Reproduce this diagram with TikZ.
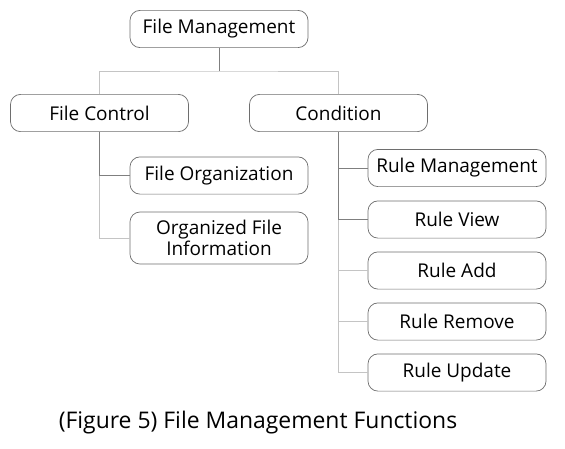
\documentclass[tikz,border=0pt]{standalone}
\usepackage{fontspec}
\setmainfont{Open Sans}
\usetikzlibrary{positioning}
\definecolor{boxgray}{HTML}{6E6E6E}
\definecolor{linkdark}{HTML}{7F7F7F}
\definecolor{linklight}{HTML}{C4C4C4}

\tikzset{
  funcbox/.style={rectangle, rounded corners=2.5mm, draw=boxgray, fill=white, line width=0.5pt,
    minimum width=4.45cm, minimum height=0.93cm, align=center, font=\fontsize{13.5}{15}\selectfont, inner sep=0pt},
  tallbox/.style={funcbox, minimum height=1.3cm},
  darklink/.style={draw=linkdark, line width=0.6pt},
  lightlink/.style={draw=linklight, line width=0.6pt}
}

\begin{document}
\begin{tikzpicture}[x=0.025cm, y=-0.025cm]
\useasboundingbox (0,0) rectangle (565,448);

% Top level and the two groups
\node[funcbox] (mgmt) at (219,29) {File Management};
\node[funcbox] (ctrl) at (99.5,113) {File Control};
\node[funcbox] (cond) at (338.5,113) {Condition};

% File Control children
\node[funcbox] (org) at (219,175.5) {File Organization};
\node[tallbox] (orginfo) at (219,238) {Organized File\\Information};

% Condition children
\node[funcbox] (rmgmt) at (457,168) {Rule Management};
\node[funcbox] (rview) at (457,219.5) {Rule View};
\node[funcbox] (radd) at (457,270.5) {Rule Add};
\node[funcbox] (rremove) at (457,321.5) {Rule Remove};
\node[funcbox] (rupdate) at (457,372.5) {Rule Update};

% Connectors
\coordinate (split) at (219,71);
\draw[darklink] (mgmt.south) -- (split);
\draw[lightlink] (ctrl.north) |- (split) -| (cond.north);

\draw[darklink] (ctrl.south) |- (org.west);
\draw[lightlink] (ctrl.south |- org.west) |- (orginfo.west);

\draw[darklink] (cond.south) |- (rview.west);
\draw[darklink] (cond.south |- rmgmt.west) -- (rmgmt.west);
\draw[lightlink] (cond.south |- rview.west) |- (rupdate.west);
\draw[lightlink] (cond.south |- radd.west) -- (radd.west);
\draw[lightlink] (cond.south |- rremove.west) -- (rremove.west);

% Caption
\node[font=\fontsize{16.3}{18}\selectfont] (caption) at (258,423) {(Figure 5) File Management Functions};
\end{tikzpicture}
\end{document}
